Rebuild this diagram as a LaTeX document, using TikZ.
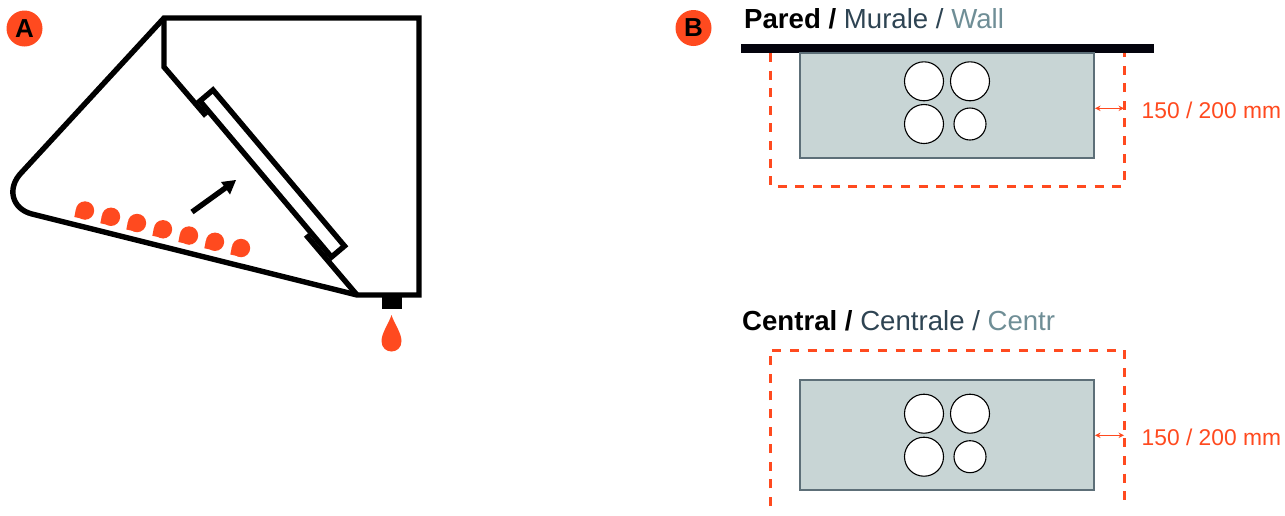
\documentclass[tikz,border=0pt]{standalone}
\usepackage{fontspec}
\setmainfont{Liberation Sans}
\usetikzlibrary{arrows.meta}
\definecolor{hot}{HTML}{FF4A1F}
\definecolor{slateA}{HTML}{2E4453}
\definecolor{slateB}{HTML}{6F8E96}
\definecolor{boxfill}{HTML}{C8D5D5}
\definecolor{boxline}{HTML}{5D6F78}
\definecolor{wallc}{HTML}{03030D}
\tikzset{
  hood/.style={line width=5.4pt,line join=miter,draw=black},
  badge/.style={circle,fill=hot,minimum size=36pt,inner sep=0pt,font=\fontsize{26}{26}\selectfont},
  unitbox/.style={draw=boxline,fill=boxfill,line width=1.6pt},
  duct/.style={circle,draw=black,fill=white,line width=1.1pt,inner sep=0pt,minimum size=39pt},
  ductsmall/.style={duct,minimum size=32pt},
  clearance/.style={draw=hot,line width=3pt,dash pattern=on 9pt off 8.6pt},
  dim/.style={draw=hot,line width=1.1pt,{Stealth[length=5.5pt,width=5.5pt]}-{Stealth[length=5.5pt,width=5.5pt]}},
  title/.style={anchor=base west,inner sep=0pt,font=\fontsize{27.6}{28}\selectfont},
  dimlabel/.style={anchor=base west,inner sep=0pt,text=hot,font=\fontsize{22.8}{23}\selectfont}
}
\begin{document}
\begin{tikzpicture}[x=1pt,y=-1pt]
\useasboundingbox (0,0) rectangle (1285,515);
% --- A ---
\draw[hood] (164,18) -- (419,18) -- (419,295) -- (357,295)
  -- (32,214) .. controls (12,209) and (6,188) .. (22,172) -- cycle;
\draw[hood] (164,18) -- (164,67) -- (206,116);
\draw[hood] (306,235) -- (357,295);
\draw[hood] (213,90) -- (344.5,246) -- (331.5,257) -- (200,101) -- cycle;
\coordinate (flowS) at (192,212);
\coordinate (flowE) at (226,187.5);
\draw[line width=5.4pt] (flowS) -- (flowE);
\fill (236,180) -- (221,182) -- (230,194.5) -- cycle;
\foreach \i in {0,...,6}{
  \begin{scope}[shift={(85+26*\i,210.5+6.25*\i)}]
    \fill[hot] (0,0) circle[radius=9.2pt];
    \fill[hot] (-10.7,6.5) -- (-9.1,-1.5) -- (0,0) -- (1,9.1) -- cycle;
  \end{scope}
}
\fill (382,295) rectangle (402,309);
\fill[hot] (391.5,315) .. controls (394,323) and (401.5,333) .. (401.5,341)
  .. controls (401.5,355) and (381.5,355) .. (381.5,341)
  .. controls (381.5,333) and (389,323) .. (391.5,315) -- cycle;
\node[badge] (badgeA) at (24.5,28.5) {\textbf{A}};
% --- B top ---
\node[badge] (badgeB) at (693.5,28) {\textbf{B}};
\node[title] (titleWall) at (744,28.5) {\textbf{Pared /} \textcolor{slateA}{Murale /} \textcolor{slateB}{Wall}};
\draw[clearance] (770,53) -- (770,186) -- (1124,186) -- (1124,53);
\fill[wallc] (741,44) rectangle (1154,53);
\draw[unitbox] (800,53) rectangle (1094,158);
\node[duct] (a1) at (924,81.3) {};
\node[duct] (a2) at (970,81.3) {};
\node[duct] (a3) at (924,124) {};
\node[ductsmall] (a4) at (970,124) {};
\coordinate (dimA1) at (1095,108.3);
\coordinate (dimA2) at (1124,108.3);
\draw[dim] (dimA1) -- (dimA2);
\node[dimlabel] (labA) at (1141.5,118) {150 / 200 mm};
% --- B bottom ---
\node[title] (titleCentral) at (742,330) {\textbf{Central /} \textcolor{slateA}{Centrale /} \textcolor{slateB}{Centr}};
\draw[clearance] (770,506) -- (770,350) -- (1124,350) -- (1124,506);
\draw[unitbox] (800,380) rectangle (1094,490);
\node[duct] (b1) at (924,413.7) {};
\node[duct] (b2) at (970,413.7) {};
\node[duct] (b3) at (924,456.7) {};
\node[ductsmall] (b4) at (970,456.7) {};
\coordinate (dimB1) at (1095,435.3);
\coordinate (dimB2) at (1124,435.3);
\draw[dim] (dimB1) -- (dimB2);
\node[dimlabel] (labB) at (1141.5,445) {150 / 200 mm};
\end{tikzpicture}
\end{document}
